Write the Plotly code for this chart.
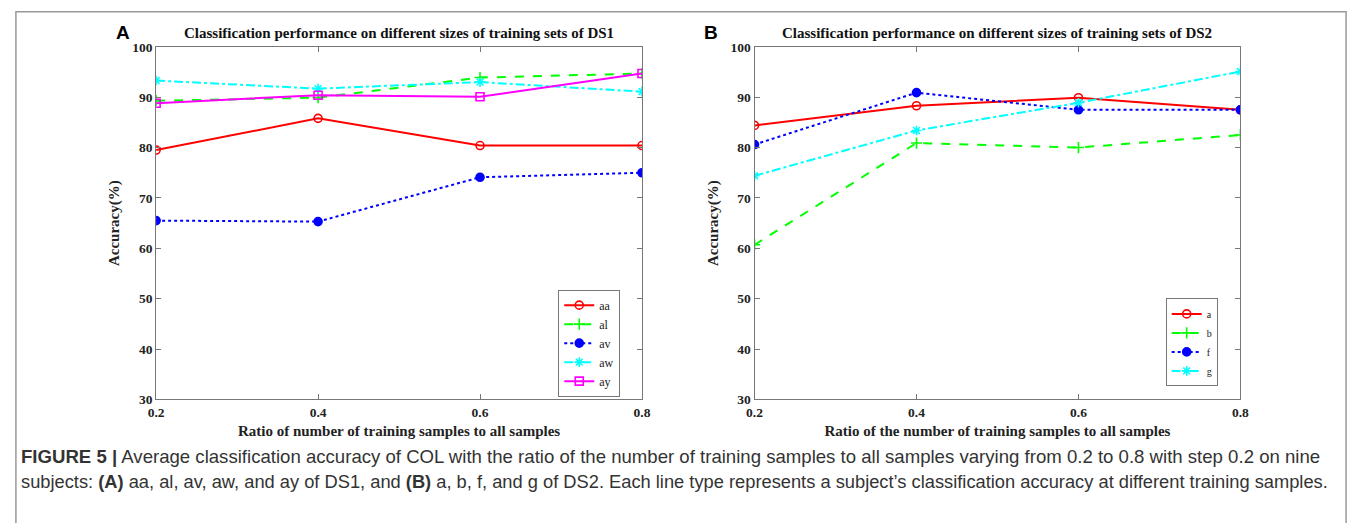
import plotly.graph_objects as go

ratios = [0.2, 0.4, 0.6, 0.8]

# Panel A (DS1)
ds1_names = ["aa", "al", "av", "aw", "ay"]
ds1_aa = [79.5, 85.8, 80.4, 80.4]
ds1_al = [89.3, 89.9, 93.9, 94.7]
ds1_av = [65.5, 65.3, 74.1, 75.0]
ds1_aw = [93.3, 91.7, 93.0, 91.1]
ds1_ay = [88.8, 90.4, 90.1, 94.7]

# Panel B (DS2)
ds2_names = ["a", "b", "f", "g"]
ds2_a = [84.4, 88.3, 89.9, 87.5]
ds2_b = [60.7, 80.9, 80.0, 82.5]
ds2_f = [80.6, 90.9, 87.5, 87.5]
ds2_g = [74.4, 83.4, 88.9, 95.1]

yticks = [30, 40, 50, 60, 70, 80, 90, 100]
xticks = [0.2, 0.4, 0.6, 0.8]

styles = [
    dict(color="#ff0000", dash="solid", symbol="circle-open"),
    dict(color="#00ff00", dash="dash", symbol="cross-thin-open"),
    dict(color="#0000ff", dash="dot", symbol="circle"),
    dict(color="#00ffff", dash="dashdot", symbol="asterisk-open"),
    dict(color="#ff00ff", dash="solid", symbol="square-open"),
]

fig = go.Figure()

for i, (name, vals) in enumerate(zip(ds1_names, [ds1_aa, ds1_al, ds1_av, ds1_aw, ds1_ay])):
    s = styles[i]
    fig.add_trace(go.Scatter(
        x=ratios, y=vals, name=name, mode="lines+markers",
        line=dict(color=s["color"], dash=s["dash"], width=2),
        marker=dict(symbol=s["symbol"], size=8, color=s["color"],
                    line=dict(color=s["color"], width=1.6)),
        xaxis="x", yaxis="y", legend="legend"))

for i, (name, vals) in enumerate(zip(ds2_names, [ds2_a, ds2_b, ds2_f, ds2_g])):
    s = styles[i]
    fig.add_trace(go.Scatter(
        x=ratios, y=vals, name=name, mode="lines+markers",
        line=dict(color=s["color"], dash=s["dash"], width=2),
        marker=dict(symbol=s["symbol"], size=8, color=s["color"],
                    line=dict(color=s["color"], width=1.6)),
        xaxis="x2", yaxis="y2", legend="legend2"))

serif = "Liberation Serif, Times New Roman, serif"
sans = "Liberation Sans, Arial, Helvetica, sans-serif"
axis_common = dict(showline=True, linecolor="#777", linewidth=1, mirror="ticks",
                   ticks="inside", ticklen=5, tickcolor="#777", showgrid=False,
                   zeroline=False, tickfont=dict(family=serif, size=13.5, color="#222"))

xtick_text = [f"<b>{v:.1f}</b>" for v in xticks]
ytick_text = [f"<b>{v}</b>" for v in yticks]

W, H = 1360, 523
y_top = 1 - 41 / H
y_bot = 1 - 404 / H
title_font = dict(family=serif, size=15, color="#222")

fig.update_layout(
    width=W, height=H,
    margin=dict(l=0, r=0, t=0, b=0),
    paper_bgcolor="white", plot_bgcolor="white",
    xaxis=dict(domain=[150 / W, 642 / W], range=[0.2, 0.8], tickvals=xticks,
               ticktext=xtick_text, anchor="y",
               title=dict(text="<b>Ratio of number of training samples to all samples</b>",
                          font=title_font, standoff=6),
               **axis_common),
    yaxis=dict(domain=[y_bot, y_top], range=[30, 100], tickvals=yticks, ticktext=ytick_text,
               anchor="x",
               title=dict(text="<b>Accuracy(%)</b>", font=title_font, standoff=8),
               **axis_common),
    xaxis2=dict(domain=[756 / W, 1248 / W], range=[0.2, 0.8], tickvals=xticks,
                ticktext=xtick_text, anchor="y2",
                title=dict(text="<b>Ratio of the number of training samples to all samples</b>",
                           font=title_font, standoff=6),
                **axis_common),
    yaxis2=dict(domain=[y_bot, y_top], range=[30, 100], tickvals=yticks, ticktext=ytick_text,
                anchor="x2",
                title=dict(text="<b>Accuracy(%)</b>", font=title_font, standoff=8),
                **axis_common),
    legend=dict(x=620 / W, y=1 - 291 / H, xanchor="right", yanchor="top",
                bordercolor="#777", borderwidth=1, bgcolor="white",
                font=dict(family=serif, size=12, color="#222"),
                tracegroupgap=0, itemwidth=30),
    legend2=dict(x=1225 / W, y=1 - 300 / H, xanchor="right", yanchor="top",
                 bordercolor="#777", borderwidth=1, bgcolor="white",
                 font=dict(family=serif, size=10, color="#222"),
                 tracegroupgap=0, itemwidth=30),
    showlegend=True,
)

annotations = [
    dict(text="<b>Classification performance on different sizes of training sets of DS1</b>",
         x=(150 + 642) / 2 / W, y=1 - 27 / H, xref="paper", yref="paper",
         showarrow=False, font=dict(family=serif, size=15, color="#111"),
         xanchor="center", yanchor="middle"),
    dict(text="<b>Classification performance on different sizes of training sets of DS2</b>",
         x=(756 + 1248) / 2 / W, y=1 - 27 / H, xref="paper", yref="paper",
         showarrow=False, font=dict(family=serif, size=15, color="#111"),
         xanchor="center", yanchor="middle"),
    dict(text="<b>A</b>", x=116 / W, y=1 - 26 / H, xref="paper", yref="paper",
         showarrow=False, font=dict(family=sans, size=19, color="#000"),
         xanchor="center", yanchor="middle"),
    dict(text="<b>B</b>", x=712 / W, y=1 - 26 / H, xref="paper", yref="paper",
         showarrow=False, font=dict(family=sans, size=19, color="#000"),
         xanchor="center", yanchor="middle"),
    dict(text="<b>FIGURE 5 |</b> Average classification accuracy of COL with the ratio of the number of training samples to all samples varying from 0.2 to 0.8 with step 0.2 on nine",
         x=11 / W, y=1 - 463 / H, xref="paper", yref="paper", showarrow=False,
         font=dict(family=sans, size=18.6, color="#333"),
         xanchor="left", yanchor="middle", align="left"),
    dict(text="subjects: <b>(A)</b> aa, al, av, aw, and ay of DS1, and <b>(B)</b> a, b, f, and g of DS2. Each line type represents a subject\u2019s classification accuracy at different training samples.",
         x=11 / W, y=1 - 489 / H, xref="paper", yref="paper", showarrow=False,
         font=dict(family=sans, size=18.3, color="#333"),
         xanchor="left", yanchor="middle", align="left"),
]
fig.update_layout(annotations=annotations)

fig.add_shape(type="rect", xref="paper", yref="paper",
              x0=8 / W, x1=1355 / W, y0=-0.05, y1=1 - 5 / H,
              line=dict(color="#999", width=1.5), fillcolor="rgba(0,0,0,0)", layer="below")

fig.write_html("out.html")
